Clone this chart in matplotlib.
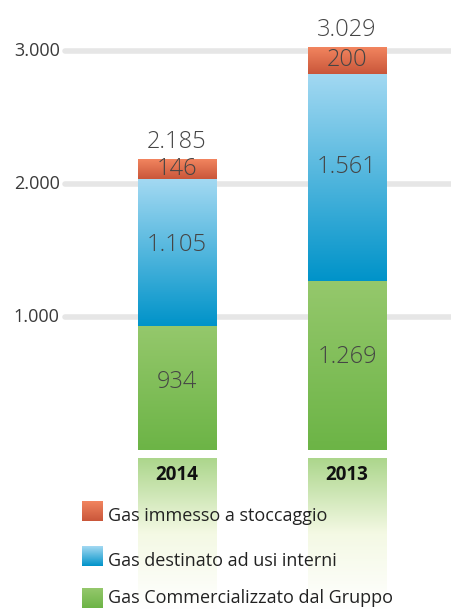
import numpy as np
import matplotlib
matplotlib.use("Agg")
import matplotlib.pyplot as plt
from matplotlib.colors import LinearSegmentedColormap

anni = ["2014", "2013"]
commercializzato = [934, 1269]
usi_interni = [1105, 1561]
stoccaggio = [146, 200]
totali = ["2.185", "3.029"]
lab_comm = ["934", "1.269"]
lab_usi = ["1.105", "1.561"]
lab_stocc = ["146", "200"]
yticks = [1000, 2000, 3000]
ytick_lab = ["1.000", "2.000", "3.000"]
legenda = ["Gas immesso a stoccaggio", "Gas destinato ad usi interni",
           "Gas Commercializzato dal Gruppo"]

plt.rcParams['font.family'] = ['Open Sans', 'DejaVu Sans']

fig = plt.figure(figsize=(4.52, 6.09), dpi=100)
ax = fig.add_axes([0, 1 - 450 / 609, 1, 450 / 609])
ax.axis("off")

# gradienti (dal basso all'alto)
cm_green = LinearSegmentedColormap.from_list("g", ["#6cb446", "#95c86c"])
cm_blue = LinearSegmentedColormap.from_list("b", ["#0093c9", "#a3d9f2"])
cm_red = LinearSegmentedColormap.from_list("r", ["#c9563a", "#f2855f"])
grad = np.linspace(0, 1, 256).reshape(-1, 1)

# griglia
for yv, lab in zip(yticks, ytick_lab):
    ax.plot([-0.66, 1.618], [yv, yv], color="#e6e6e6", lw=4, solid_capstyle="round", zorder=1)
    ax.text(-0.69, yv, lab, ha="right", va="center", fontsize=13, color="#3a3a3a")

x = np.arange(len(anni))
w = 0.46
bott2 = np.array(commercializzato) + np.array(usi_interni)
for series, bottom, cm in [(commercializzato, 0, cm_green),
                           (usi_interni, commercializzato, cm_blue),
                           (stoccaggio, bott2, cm_red)]:
    bars = ax.bar(x, series, w, bottom=bottom, color="none", zorder=2)
    for b in bars:
        x0, y0 = b.get_x(), b.get_y()
        im = ax.imshow(grad, cmap=cm, origin="lower", aspect="auto",
                       extent=[x0, x0 + b.get_width(), y0, y0 + b.get_height()], zorder=2)
        im.set_clip_path(b)

tot = bott2 + np.array(stoccaggio)
kw = dict(ha="center", va="center", fontsize=17, color="#454545", zorder=3, fontweight="light")
for i in range(len(anni)):
    ax.text(x[i], commercializzato[i] * 0.55, lab_comm[i], **kw)
    ax.text(x[i], commercializzato[i] + usi_interni[i] * 0.55, lab_usi[i], **kw)
    ax.text(x[i], bott2[i] + stoccaggio[i] / 2, lab_stocc[i], **kw)
    ax.text(x[i], tot[i] + 130, totali[i], **kw)

ax.set_xlim(-1.041, 1.618)
ax.set_ylim(0, 3383)

# riquadri anni sotto le barre
ax2 = fig.add_axes([0, 0, 1, 151 / 609])
ax2.axis("off")
cm_lab = LinearSegmentedColormap.from_list("l", ["#ffffff", "#f4f9e4", "#acd68c"])
for i, a in enumerate(anni):
    r = ax2.bar(x[i], 1, w, color="none")[0]
    im = ax2.imshow(grad, cmap=cm_lab, origin="lower", aspect="auto",
                    extent=[r.get_x(), r.get_x() + w, 0, 1], zorder=1)
    im.set_clip_path(r)
    ax2.text(x[i], 0.89, a, ha="center", va="center", fontsize=13.5,
             fontweight="bold", color="#111111", zorder=3)

# legenda
cols = [cm_red, cm_blue, cm_green]
ys = [0.649, 0.354, 0.075]
offs = [0.035, 0.035, 0.005]
for lab, cm, yy, dy in zip(legenda, cols, ys, offs):
    ax2.imshow(grad, cmap=cm, origin="lower", aspect="auto",
               extent=[-0.559, -0.441, yy - 0.066, yy + 0.066], zorder=4)
    ax2.text(-0.406, yy - dy, lab, ha="left", va="center", fontsize=13,
             color="#222222", zorder=4)

ax2.set_xlim(-1.041, 1.618)
ax2.set_ylim(0, 1)

fig.savefig("out.png", dpi=100)
